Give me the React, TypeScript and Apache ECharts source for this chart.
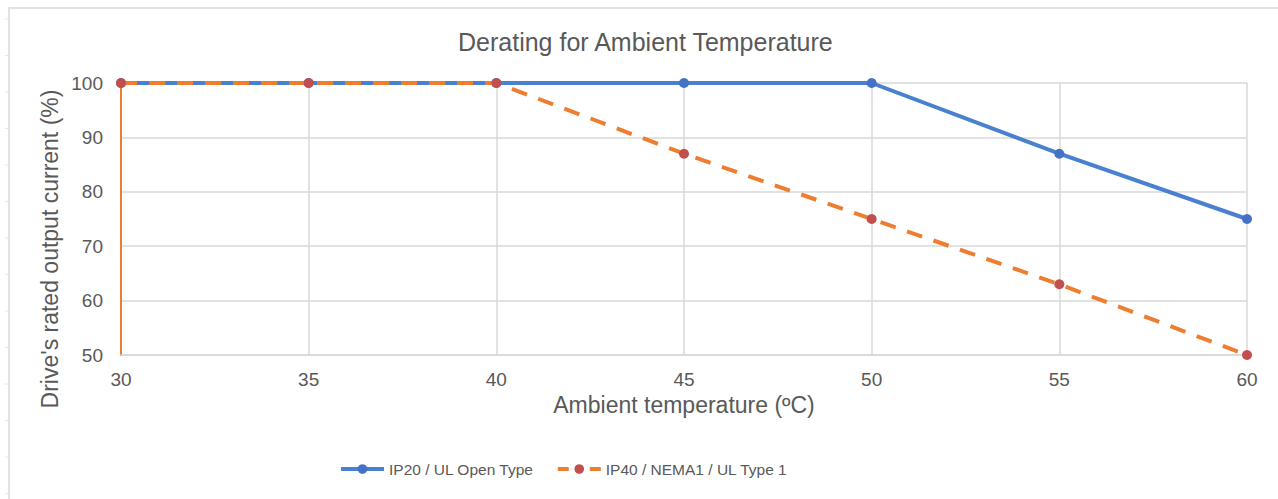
import React, { useEffect, useRef } from "react";
import * as echarts from "echarts";

const temperatures = [30, 35, 40, 45, 50, 55, 60];
const ip20Values = [100, 100, 100, 100, 100, 87, 75];
const ip40Values = [100, 100, 100, 87, 75, 63, 50];
const seriesNames = ["IP20 / UL Open Type", "IP40 / NEMA1 / UL Type 1"];
const titleText = "Derating for Ambient Temperature";
const xAxisName = "Ambient temperature (ºC)";
const yAxisName = "Drive's rated output current (%)";

const FONT = "'Liberation Sans', Arial, sans-serif";
const TEXT_COLOR = "#595959";
const GRID_COLOR = "#d9d9d9";

export default function App() {
  const ref = useRef<HTMLDivElement>(null);

  useEffect(() => {
    if (!ref.current) return;
    const chart = echarts.init(ref.current, undefined, { renderer: "svg" });

    const leftTicks: any[] = [];
    for (let k = 0; k < 14; k++) {
      const y = 19 + 36.5 * k;
      leftTicks.push({
        type: "line",
        shape: { x1: 5, y1: y, x2: 9, y2: y },
        style: { stroke: "#e6e6e6", lineWidth: 1 },
        silent: true,
      });
    }

    chart.setOption({
      animation: false,
      backgroundColor: "#ffffff",
      title: {
        text: titleText,
        left: 458,
        top: 29,
        padding: 0,
        textStyle: {
          fontFamily: FONT,
          fontSize: 25,
          fontWeight: "normal",
          color: TEXT_COLOR,
        },
      },
      graphic: [
        {
          type: "rect",
          shape: { x: 9, y: 8, width: 1300, height: 600 },
          style: { fill: "none", stroke: GRID_COLOR, lineWidth: 1.5 },
          silent: true,
          z: -10,
        },
        ...leftTicks,
        {
          type: "text",
          x: 50,
          y: 249,
          rotation: Math.PI / 2,
          style: {
            text: yAxisName,
            align: "center",
            verticalAlign: "middle",
            fontFamily: FONT,
            fontSize: 23,
            fill: TEXT_COLOR,
          },
        },
      ],
      legend: {
        left: 334,
        top: 456,
        itemWidth: 43,
        itemHeight: 12,
        itemGap: 22,
        data: [
          { name: seriesNames[0] },
          { name: seriesNames[1], lineStyle: { type: [11, 21], dashOffset: 0 } },
        ],
        lineStyle: { width: 4 },
        textStyle: { fontFamily: FONT, fontSize: 15.5, color: TEXT_COLOR },
      },
      grid: { left: 121, right: 31, top: 83, bottom: 144, containLabel: false },
      xAxis: {
        type: "value",
        min: 30,
        max: 60,
        interval: 5,
        name: xAxisName,
        nameLocation: "middle",
        nameGap: 31,
        nameTextStyle: { fontFamily: FONT, fontSize: 23, color: TEXT_COLOR },
        axisLine: { show: true, lineStyle: { color: GRID_COLOR, width: 1.5 } },
        axisTick: { show: false },
        axisLabel: { margin: 15, fontFamily: FONT, fontSize: 19, color: TEXT_COLOR },
        splitLine: { show: true, lineStyle: { color: GRID_COLOR, width: 1.5 } },
      },
      yAxis: {
        type: "value",
        min: 50,
        max: 100,
        interval: 10,
        axisLine: { show: true, lineStyle: { color: "#ED7D31", width: 2 } },
        axisTick: { show: false },
        axisLabel: { margin: 18, fontFamily: FONT, fontSize: 19, color: TEXT_COLOR },
        splitLine: { show: true, lineStyle: { color: GRID_COLOR, width: 1.5 } },
      },
      series: [
        {
          name: seriesNames[0],
          type: "line",
          data: temperatures.map((t, i) => [t, ip20Values[i]]),
          symbol: "circle",
          symbolSize: 10,
          showSymbol: true,
          lineStyle: { color: "#4A80D0", width: 4 },
          itemStyle: { color: "#4472C4", borderWidth: 0 },
          z: 3,
        },
        {
          name: seriesNames[1],
          type: "line",
          data: temperatures.map((t, i) => [t, ip40Values[i]]),
          symbol: "circle",
          symbolSize: 10,
          showSymbol: true,
          lineStyle: { color: "#ED7D31", width: 4, type: [16, 12] },
          itemStyle: { color: "#C0504D", borderWidth: 0 },
          z: 4,
        },
      ],
    });

    return () => chart.dispose();
  }, []);

  return (
    <div
      ref={ref}
      style={{ position: "absolute", left: 0, top: 0, width: 1278, height: 499 }}
    />
  );
}
